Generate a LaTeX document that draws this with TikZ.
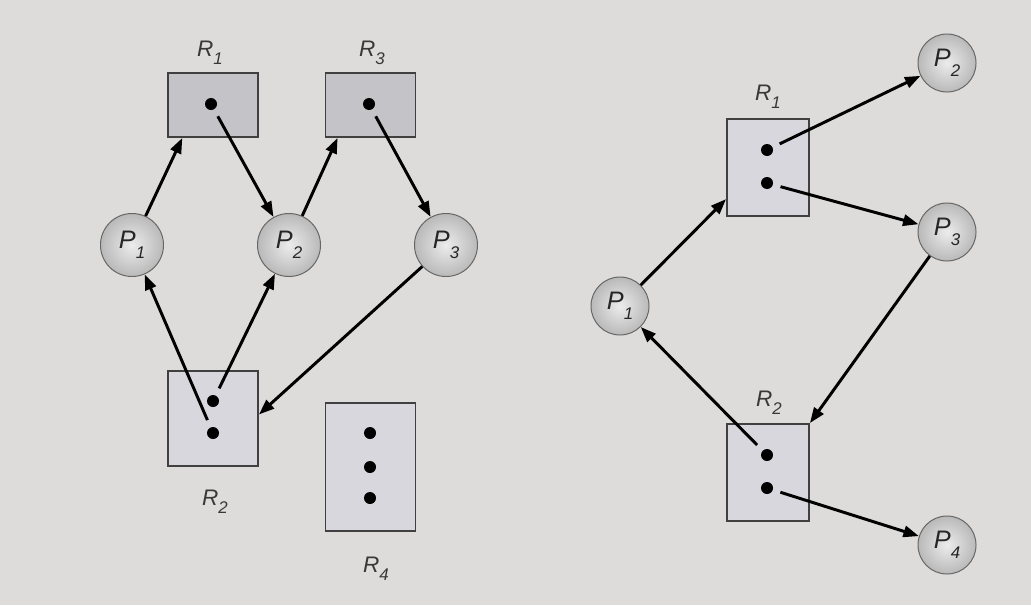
\documentclass[tikz,border=0pt]{standalone}
\usepackage{fontspec}
\setmainfont{Liberation Sans}
\usetikzlibrary{arrows.meta}

\definecolor{bgc}{RGB}{221,220,218}
\definecolor{resdark}{RGB}{196,196,200}
\definecolor{reslight}{RGB}{216,215,222}
\newcommand{\subidx}[1]{\raisebox{-0.75ex}{\fontsize{12}{12}\selectfont #1}}

\begin{document}
\begin{tikzpicture}[x=0.025cm,y=-0.025cm,>={Triangle[length=11pt,width=8pt]},
  proc/.style={circle,draw=gray!80!black,line width=0.7pt,shading=radial,inner color=gray!15,outer color=gray!55,
    minimum size=1.55cm,inner sep=0pt,font=\fontsize{18}{20}\selectfont\itshape,text=black!85},
  res/.style={rectangle,draw=black!75,line width=1.3pt,fill=reslight,inner sep=0pt},
  inst/.style={circle,fill=black,inner sep=0pt,minimum size=0.3cm,outer sep=0.2cm},
  rname/.style={anchor=base,font=\fontsize{16}{18}\selectfont\itshape,text=black!78},
  flow/.style={->,line width=2.1pt}]
\fill[bgc] (0,0) rectangle (1031,605);
\useasboundingbox (0,0) rectangle (1031,605);

% left graph
\node[res,fill=resdark,minimum width=2.25cm,minimum height=1.6cm] (lR1) at (213,105) {};
\node[res,fill=resdark,minimum width=2.25cm,minimum height=1.6cm] (lR3) at (370.5,105) {};
\node[res,minimum width=2.25cm,minimum height=2.375cm] (lR2) at (213,418.5) {};
\node[res,minimum width=2.25cm,minimum height=3.2cm] (lR4) at (370.5,467) {};
\node[inst] (lR1a) at (211,104) {};
\node[inst] (lR3a) at (369,104) {};
\node[inst] (lR2a) at (213,401) {};
\node[inst] (lR2b) at (213,433) {};
\node[inst] (lR4a) at (370,433) {};
\node[inst] (lR4b) at (370,467) {};
\node[inst] (lR4c) at (370,498) {};
\node[rname] (lR1t) at (210,56) {R\subidx{1}};
\node[rname] (lR3t) at (372,56) {R\subidx{3}};
\node[rname] (lR2t) at (215,505) {R\subidx{2}};
\node[rname] (lR4t) at (376,572) {R\subidx{4}};
\node[proc,minimum size=1.575cm] (lP1) at (132,245) {P\subidx{1}};
\node[proc,minimum size=1.575cm] (lP2) at (289,245) {P\subidx{2}};
\node[proc,minimum size=1.575cm] (lP3) at (446,245) {P\subidx{3}};
\draw[flow] (lP1) -- (lR1.-133);
\draw[flow] (lR1a) -- (lP2);
\draw[flow] (lP2) -- (lR3.-135);
\draw[flow] (lR3a) -- (lP3);
\draw[flow] (lR2b) -- (lP1);
\draw[flow] (lR2a) -- (lP2);
\draw[flow] (lP3) -- (lR2.5);

% right graph
\node[res,minimum width=2.05cm,minimum height=2.425cm] (rR1) at (768,167.5) {};
\node[res,minimum width=2.05cm,minimum height=2.425cm] (rR2) at (768,472.5) {};
\node[inst] (rR1a) at (767,150) {};
\node[inst] (rR1b) at (767,183) {};
\node[inst] (rR2a) at (767,455) {};
\node[inst] (rR2b) at (767,488) {};
\node[rname] (rR1t) at (768,100) {R\subidx{1}};
\node[rname] (rR2t) at (769,406) {R\subidx{2}};
\node[proc,minimum size=1.45cm] (rP1) at (620,306) {P\subidx{1}};
\node[proc,minimum size=1.45cm] (rP2) at (947,63) {P\subidx{2}};
\node[proc,minimum size=1.45cm] (rP3) at (947,232) {P\subidx{3}};
\node[proc,minimum size=1.45cm] (rP4) at (947,545) {P\subidx{4}};
\draw[flow] (rP1) -- (rR1.-143);
\draw[flow] (rR1a) -- (rP2);
\draw[flow] (rR1b) -- (rP3);
\draw[flow] (rP3) -- (rR2.north east);
\draw[flow] (rR2a) -- (rP1);
\draw[flow] (rR2b) -- (rP4);
\end{tikzpicture}
\end{document}
